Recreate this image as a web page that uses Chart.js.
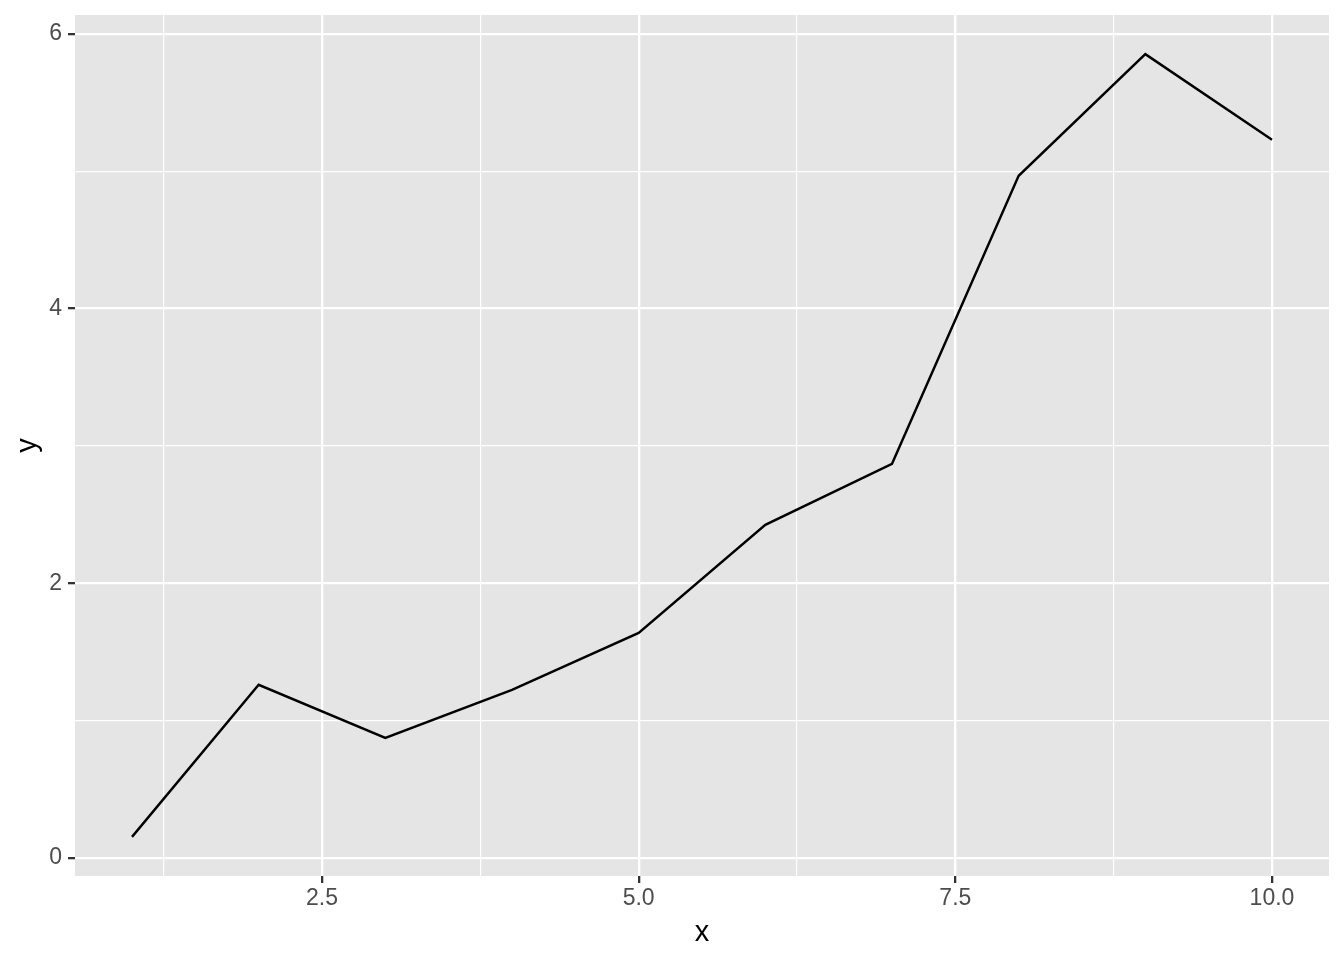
<!DOCTYPE html>
<html><head><meta charset="utf-8">
<script src="https://cdn.jsdelivr.net/npm/chart.js@4.4.0/dist/chart.umd.min.js"></script>
<style>html,body{margin:0;padding:0;background:#fff;}#wrap{width:1344px;height:960px;position:relative;}</style>
</head><body><div id="wrap"><canvas id="c" width="1344" height="960"></canvas></div>
<script>
const xValues = [1, 2, 3, 4, 5, 6, 7, 8, 9, 10];
const yValues = [0.153, 1.26, 0.874, 1.223, 1.638, 2.425, 2.869, 4.966, 5.852, 5.228];
const xMajorTicks = [2.5, 5.0, 7.5, 10.0];
const xMinorTicks = [1.25, 3.75, 6.25, 8.75];
const yMajorTicks = [0, 2, 4, 6];
const yMinorTicks = [1, 3, 5];
const xTitle = 'x';
const yTitle = 'y';

function expand(vals) {
  const lo = Math.min(...vals), hi = Math.max(...vals), d = (hi - lo) * 0.05;
  return [lo - d, hi + d];
}
const [xMin, xMax] = expand(xValues);
const [yMin, yMax] = expand(yValues);

const MAJOR_W = 2.3, MINOR_W = 1.15;
function isMajor(list, v) { return list.some(m => Math.abs(m - v) < 1e-9); }

const panelBg = {
  id: 'panelBg',
  beforeDraw(chart) {
    const {ctx, chartArea: a} = chart;
    ctx.save();
    ctx.fillStyle = '#E5E5E5';
    ctx.fillRect(a.left, a.top, a.right - a.left, a.bottom - a.top);
    ctx.restore();
  }
};

const tickFont = {family: '"Liberation Sans", Arial, sans-serif', size: 23};
const titleFont = {family: '"Liberation Sans", Arial, sans-serif', size: 29};

new Chart(document.getElementById('c'), {
  type: 'line',
  data: {
    datasets: [{
      data: xValues.map((x, i) => ({x: x, y: yValues[i]})),
      borderColor: '#000000',
      borderWidth: 2.4,
      pointRadius: 0,
      tension: 0,
      fill: false
    }]
  },
  options: {
    responsive: false,
    devicePixelRatio: 1,
    animation: false,
    layout: {padding: {top: 15, right: 15, left: 0, bottom: 0}},
    plugins: {legend: {display: false}, tooltip: {enabled: false}},
    scales: {
      x: {
        type: 'linear',
        min: xMin, max: xMax,
        afterBuildTicks(scale) {
          scale.ticks = [...xMajorTicks, ...xMinorTicks].sort((a, b) => a - b).map(v => ({value: v}));
        },
        afterFit(scale) {
          scale.height = 84;
          scale.paddingLeft = 0; scale.paddingRight = 0; scale.paddingTop = 0; scale.paddingBottom = 0;
        },
        border: {display: false},
        grid: {
          color: '#FFFFFF',
          lineWidth: c => isMajor(xMajorTicks, c.tick.value) ? MAJOR_W : MINOR_W,
          tickColor: c => isMajor(xMajorTicks, c.tick.value) ? '#333333' : 'rgba(0,0,0,0)',
          tickWidth: MAJOR_W,
          tickLength: 7,
          drawTicks: true
        },
        ticks: {
          autoSkip: false, maxRotation: 0, minRotation: 0,
          padding: 2,
          color: '#4D4D4D',
          font: tickFont,
          callback: v => isMajor(xMajorTicks, v) ? Number(v).toFixed(1) : ''
        },
        title: {display: true, text: xTitle, color: '#000000', font: titleFont, padding: {top: 0, bottom: 10}}
      },
      y: {
        type: 'linear',
        min: yMin, max: yMax,
        afterBuildTicks(scale) {
          scale.ticks = [...yMajorTicks, ...yMinorTicks].sort((a, b) => a - b).map(v => ({value: v}));
        },
        afterFit(scale) {
          scale.width = 75;
          scale.paddingLeft = 0; scale.paddingRight = 0; scale.paddingTop = 0; scale.paddingBottom = 0;
        },
        border: {display: false},
        grid: {
          color: '#FFFFFF',
          lineWidth: c => isMajor(yMajorTicks, c.tick.value) ? MAJOR_W : MINOR_W,
          tickColor: c => isMajor(yMajorTicks, c.tick.value) ? '#333333' : 'rgba(0,0,0,0)',
          tickWidth: MAJOR_W,
          tickLength: 7,
          drawTicks: true
        },
        ticks: {
          autoSkip: false,
          padding: 6,
          color: '#4D4D4D',
          font: tickFont,
          callback: v => isMajor(yMajorTicks, v) ? String(v) : ''
        },
        title: {display: true, text: yTitle, color: '#000000', font: titleFont, padding: {top: 11, bottom: 0}}
      }
    }
  },
  plugins: [panelBg]
});
</script>
</body></html>
